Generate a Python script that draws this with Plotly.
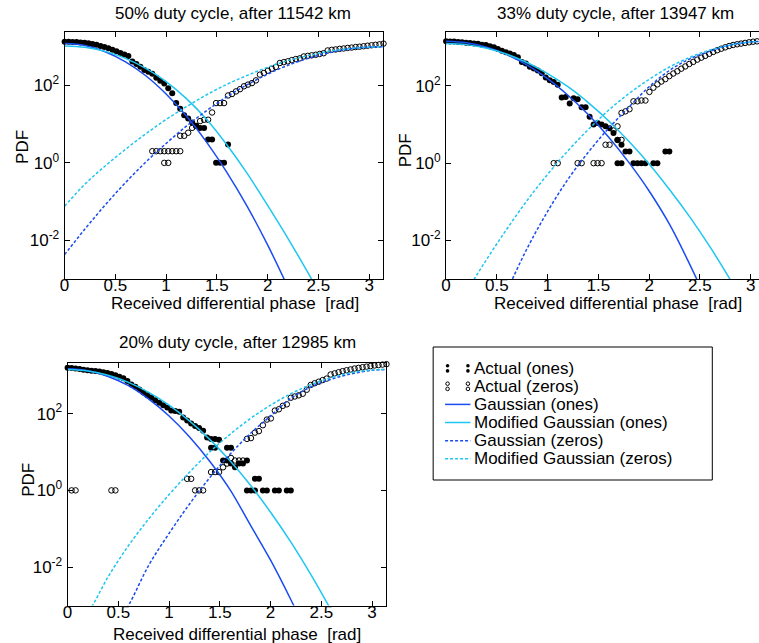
import numpy as np
import plotly.graph_objects as go

W, H = 759, 643
PI = np.pi
N = None

# ---------------- data ----------------
# histogram bin centres: 81 bins between 0 and pi
N_BINS = 80
bin_x = [k * PI / N_BINS for k in range(N_BINS + 1)]

curve_x = [0.0, 0.2, 0.4, 0.6, 0.8, 1.0, 1.2, 1.4, 1.6, 1.8, 2.0, 2.2, 2.4, 2.6, 2.8, 3.0, PI]

titles = ["50% duty cycle, after 11542 km",
          "33% duty cycle, after 13947 km",
          "20% duty cycle, after 12985 km"]
x_label = "Received differential phase\u00a0 [rad]"
y_label = "PDF"
x_tick_vals = [0, 0.5, 1, 1.5, 2, 2.5, 3]
x_tick_text = ["0", "0.5", "1", "1.5", "2", "2.5", "3"]
y_tick_vals = [1e-2, 1, 1e2]
y_tick_text = ["10<sup>-2</sup>", "10<sup>0</sup>", "10<sup>2</sup>"]
legend_labels = ["Actual (ones)", "Actual (zeros)", "Gaussian (ones)",
                 "Modified Gaussian (ones)", "Gaussian (zeros)", "Modified Gaussian (zeros)"]

# ---- 50 % duty cycle: counts per bin ----
ones_50 = [1349, 1349, 1318, 1318, 1288, 1259, 1230, 1175, 1122, 1047, 977, 912, 832, 759, 692,
           631, 575, 417, 355, 302, 251, 224, 200, 158, 132, 112, 85, 63, 35, 25, 17, 14, 11, 9,
           8, 8, 4, 4, 1, 1, 1, 3] + [N] * 39
ones_50_extra_bins = []
ones_50_extra = []
zeros_50 = [N] * 22 + [2, 2, 2, 2, 2, 2, 2, 2,
                       5, 6, 8, 9, 12, 13, 13, 20,
                       35, 35, 35, 55, 60, 70, 80, 95, 105, 115, 135,
                       190, 210, 240, 270, 300,
                       380, 400, 420, 450, 480, 500,
                       560, 580, 600, 620, 650, 680,
                       800, 830, 850, 880, 900, 930, 950, 980, 1000, 1030, 1060, 1090, 1120, 1150, 1200]
zeros_50_extra_bins = [25, 26, 29]
zeros_50_extra = [1, 1, 5]
# fitted curves, log10(PDF)
gauss_ones_50 = [3.08, 3.03, 2.87, 2.61, 2.25, 1.78, 1.21, 0.53, -0.25, -1.13, -2.12, -3.21, N, N, N, N, N]
mgauss_ones_50 = [3.02, 2.985, 2.88, 2.70, 2.44, 2.10, 1.66, 1.12, 0.46, -0.28, -1.10, -1.95, -2.85, -3.80, N, N, N]
gauss_zeros_50 = [-2.37, -1.71, -1.09, -0.51, 0.02, 0.50, 0.95, 1.35, 1.71, 2.02, 2.29, 2.52, 2.70, 2.84, 2.94, 2.99, 3.00]
mgauss_zeros_50 = [-1.12, -0.55, -0.08, 0.35, 0.75, 1.12, 1.45, 1.76, 2.03, 2.26, 2.47, 2.64, 2.77, 2.88, 2.95, 2.99, 3.00]

# ---- 33 % duty cycle ----
ones_33 = [1445, 1413, 1413, 1380, 1349, 1318, 1288, 1259, 1230, 1175, 1148, 1072, 1000, 912, 813,
           741, 692, 631, 550, 417, 380, 316, 282, 251, 214, 166, 141, 126, 107,
           50, 52, 35, 48, 45, 28, 28, 16, 10, 11, 10, 9, 8, 6, 4, 3, 2, 2, 1, 1, 1, 1, N, 1, 1, N, 2, 2] + [N] * 24
ones_33_extra_bins = [43, 44]
ones_33_extra = [1, 1]
zeros_33 = [N] * 27 + [1, 1, N, N, N, N, 1, 1, N, N, 1, 1, 1, 3, 3, 7, 9, 20, 22, 25, 40, 40, 42, 42,
                       70, 90, 110, 130, 150, 180, 210, 240, 280, 320, 370, 420, 480, 540, 600, 680,
                       760, 840, 920, 1000, 1080, 1150, 1200, 1250, 1300, 1350, 1400, 1430, 1460, 1500]
zeros_33_extra_bins = [43, 44]
zeros_33_extra = [4, 4]
gauss_ones_33 = [3.16, 3.12, 3.00, 2.81, 2.54, 2.19, 1.76, 1.26, 0.68, 0.02, -0.72, -1.58, -2.62, -3.75, N, N, N]
mgauss_ones_33 = [3.10, 3.07, 2.975, 2.82, 2.60, 2.32, 1.98, 1.57, 1.10, 0.57, -0.02, -0.68, -1.39, -2.17, -3.02, -3.92, N]
gauss_zeros_33 = [N, N, -4.40, -3.30, -2.20, -1.25, -0.42, 0.28, 0.90, 1.45, 1.98, 2.40, 2.70, 2.90, 3.06, 3.14, 3.16]
mgauss_zeros_33 = [-4.25, -3.34, -2.49, -1.70, -0.96, -0.29, 0.32, 0.87, 1.37, 1.80, 2.17, 2.49, 2.74, 2.93, 3.06, 3.14, 3.15]

# ---- 20 % duty cycle ----
ones_20 = [1580, 1550, 1500, 1450, 1400, 1360, 1320, 1288, 1259, 1202, 1148, 1072, 1000, 912, 832,
           708, 575, 501, 427, 355, 302, 263, 224, 191, 166, 145, 120, 117, 112, 79, 66, 55, 48, 42, 36, 24,
           22, 22, 21, 6, 13, 13, 4, 5, 5, 6, 1, 1, 2, 1, 1, N, 1, 1, N, 1, 1] + [N] * 24
ones_20_extra_bins = [36, 37, 40, 41, 45, 47]
ones_20_extra = [13, 13, 6, 5, 1, 2]
zeros_20 = [N, 1, 1] + [N] * 8 + [1, 1] + [N] * 17 + [2, 2, 1, 1, 1, N, 3, 3, 3, 4, 5, 7, 6, 6, 6,
            22, 23, 32, 35, 50, 70, 75, 120, 130, 160, 175,
            260, 280, 300, 330, 420, 560, 620, 680, 750, 820,
            1050, 1120, 1200, 1280, 1350, 1420, 1500, 1560, 1620, 1680, 1740, 1800, 1850, 1900, 1950]
zeros_20_extra_bins = []
zeros_20_extra = []
gauss_ones_20 = [3.17, 3.12, 2.97, 2.73, 2.38, 1.94, 1.40, 0.76, 0.02, -0.90, -1.82, -2.85, -3.95, N, N, N, N]
mgauss_ones_20 = [3.15, 3.11, 3.00, 2.815, 2.555, 2.22, 1.81, 1.33, 0.77, 0.14, -0.57, -1.35, -2.21, -3.14, N, N, N]
gauss_zeros_20 = [N, N, -3.84, -3.00, -1.95, -1.12, -0.36, 0.33, 0.94, 1.48, 1.94, 2.40, 2.70, 2.90, 3.04, 3.13, 3.15]
mgauss_zeros_20 = [-3.86, -3.20, -2.25, -1.44, -0.74, -0.11, 0.47, 1.00, 1.46, 1.87, 2.22, 2.52, 2.76, 2.94, 3.07, 3.14, 3.15]

# ---------------- layout geometry (pixels) ----------------
FONT = "Liberation Sans, Arial, Helvetica, sans-serif"
FS = 17
BLUE = "#1a4cf2"
CYAN = "#1ec6f0"


def px(v):
    return v / W


def py(v):
    return 1 - v / H


panels = [
    dict(ones=ones_50, ones_xb=ones_50_extra_bins, ones_xv=ones_50_extra,
         zeros=zeros_50, zeros_xb=zeros_50_extra_bins, zeros_xv=zeros_50_extra,
         g1=gauss_ones_50, m1=mgauss_ones_50, g0=gauss_zeros_50, m0=mgauss_zeros_50,
         xdom=[px(60), px(381)], ydom=[py(279), py(32)], xr=[0, PI], yr=[-3, 3.38], ymirror=True,
         title=(230, 14), xlab=(232, 304), ylab=(18, 147)),
    dict(ones=ones_33, ones_xb=ones_33_extra_bins, ones_xv=ones_33_extra,
         zeros=zeros_33, zeros_xb=zeros_33_extra_bins, zeros_xv=zeros_33_extra,
         g1=gauss_ones_33, m1=mgauss_ones_33, g0=gauss_zeros_33, m0=mgauss_zeros_33,
         xdom=[px(444), 1.0], ydom=[py(279), py(31.5)], xr=[0, (759 - 444) / 102.2], yr=[-3, 3.41], ymirror=False,
         title=(615, 14), xlab=(617, 304), ylab=(403, 150)),
    dict(ones=ones_20, ones_xb=ones_20_extra_bins, ones_xv=ones_20_extra,
         zeros=zeros_20, zeros_xb=zeros_20_extra_bins, zeros_xv=zeros_20_extra,
         g1=gauss_ones_20, m1=mgauss_ones_20, g0=gauss_zeros_20, m0=mgauss_zeros_20,
         xdom=[px(63), px(384)], ydom=[py(605.5), py(363)], xr=[0, PI], yr=[-3, 3.32], ymirror=True,
         title=(234, 342), xlab=(234, 634), ylab=(23, 480)),
]


def to_pdf(logs):
    return [None if v is None else 10 ** v for v in logs]


fig = go.Figure()
layout = dict(width=W, height=H, autosize=False, margin=dict(l=0, r=0, t=0, b=0),
              paper_bgcolor="white", plot_bgcolor="white", showlegend=False,
              font=dict(family=FONT, size=FS, color="black"))
annotations = []
shapes = []

for i, p in enumerate(panels):
    sfx = "" if i == 0 else str(i + 1)
    xa, ya = "x" + sfx, "y" + sfx
    filled = dict(symbol="circle", size=6, color="black", line=dict(width=0))
    hollow = dict(symbol="circle-open", size=5.5, color="black", line=dict(width=1, color="black"))
    fig.add_trace(go.Scatter(x=bin_x, y=p["ones"], mode="markers", marker=filled, cliponaxis=False,
                             name=legend_labels[0], xaxis=xa, yaxis=ya))
    fig.add_trace(go.Scatter(x=[bin_x[k] for k in p["ones_xb"]], y=p["ones_xv"], mode="markers",
                             marker=filled, cliponaxis=False, name=legend_labels[0], xaxis=xa, yaxis=ya))
    fig.add_trace(go.Scatter(x=bin_x, y=p["zeros"], mode="markers", marker=hollow, cliponaxis=False,
                             name=legend_labels[1], xaxis=xa, yaxis=ya))
    fig.add_trace(go.Scatter(x=[bin_x[k] for k in p["zeros_xb"]], y=p["zeros_xv"], mode="markers",
                             marker=hollow, cliponaxis=False, name=legend_labels[1], xaxis=xa, yaxis=ya))
    for key, color, dash, lab in [("g1", BLUE, "solid", legend_labels[2]),
                                  ("m1", CYAN, "solid", legend_labels[3]),
                                  ("g0", BLUE, "3px,2px", legend_labels[4]),
                                  ("m0", CYAN, "3px,2px", legend_labels[5])]:
        fig.add_trace(go.Scatter(x=curve_x, y=to_pdf(p[key]), mode="lines", name=lab,
                                 line=dict(color=color, width=1.5, dash=dash, shape="spline", smoothing=1.0),
                                 xaxis=xa, yaxis=ya))

    axcommon = dict(showline=True, linecolor="black", linewidth=1, ticks="inside", ticklen=5,
                    tickcolor="black", showgrid=False, zeroline=False,
                    tickfont=dict(family=FONT, size=FS, color="black"))
    layout["xaxis" + sfx] = dict(domain=p["xdom"], range=p["xr"], anchor=ya, mirror="ticks",
                                 ticklabelstandoff=-9,
                                 tickmode="array", tickvals=x_tick_vals, ticktext=x_tick_text, **axcommon)
    layout["yaxis" + sfx] = dict(domain=p["ydom"], range=p["yr"], type="log", anchor=xa,
                                 mirror="ticks" if p["ymirror"] else False, ticklabelstandoff=1,
                                 tickmode="array", tickvals=y_tick_vals, ticktext=y_tick_text, **axcommon)
    annotations.append(dict(text=titles[i], x=px(p["title"][0]), y=py(p["title"][1]), xref="paper", yref="paper",
                            xanchor="center", yanchor="middle", showarrow=False, font=dict(size=FS)))
    annotations.append(dict(text=x_label, x=px(p["xlab"][0]), y=py(p["xlab"][1]), xref="paper", yref="paper",
                            xanchor="center", yanchor="middle", showarrow=False, font=dict(size=FS)))
    annotations.append(dict(text=y_label, x=px(p["ylab"][0]), y=py(p["ylab"][1]), xref="paper", yref="paper",
                            xanchor="center", yanchor="middle", textangle=-90, showarrow=False,
                            font=dict(size=FS)))

# ---------------- legend box (drawn like the MATLAB legend) ----------------
LX0, LX1, LY0, LY1 = 431, 712, 347, 480
shapes.append(dict(type="rect", xref="paper", yref="paper", x0=px(LX0), x1=px(LX1), y0=py(LY1), y1=py(LY0),
                   line=dict(color="black", width=1), fillcolor="white", layer="below"))
rows = [368.3, 386.3, 404.4, 422.5, 440.7, 458.8]
sample_styles = [None, None, (BLUE, "solid"), (CYAN, "solid"), (BLUE, "3px,2px"), (CYAN, "3px,2px")]
for r, (yy, st) in enumerate(zip(rows, sample_styles)):
    if st is None:
        for mx in (445.5, 466.0):
            for dy in (-2.6, 2.6):
                shapes.append(dict(type="circle", xref="paper", yref="paper",
                                   x0=px(mx - 1.8), x1=px(mx + 1.8), y0=py(yy + dy + 1.8), y1=py(yy + dy - 1.8),
                                   fillcolor="black" if r == 0 else "white",
                                   line=dict(color="black", width=1 if r == 1 else 0)))
    else:
        shapes.append(dict(type="line", xref="paper", yref="paper", x0=px(443), x1=px(468.5),
                           y0=py(yy), y1=py(yy), line=dict(color=st[0], width=1.5, dash=st[1])))
    annotations.append(dict(text=legend_labels[r], x=px(470.5), y=py(yy), xref="paper", yref="paper",
                            xanchor="left", yanchor="middle", showarrow=False, font=dict(size=FS)))

layout["annotations"] = annotations
layout["shapes"] = shapes
fig.update_layout(**layout)
fig.write_html("out.html")
